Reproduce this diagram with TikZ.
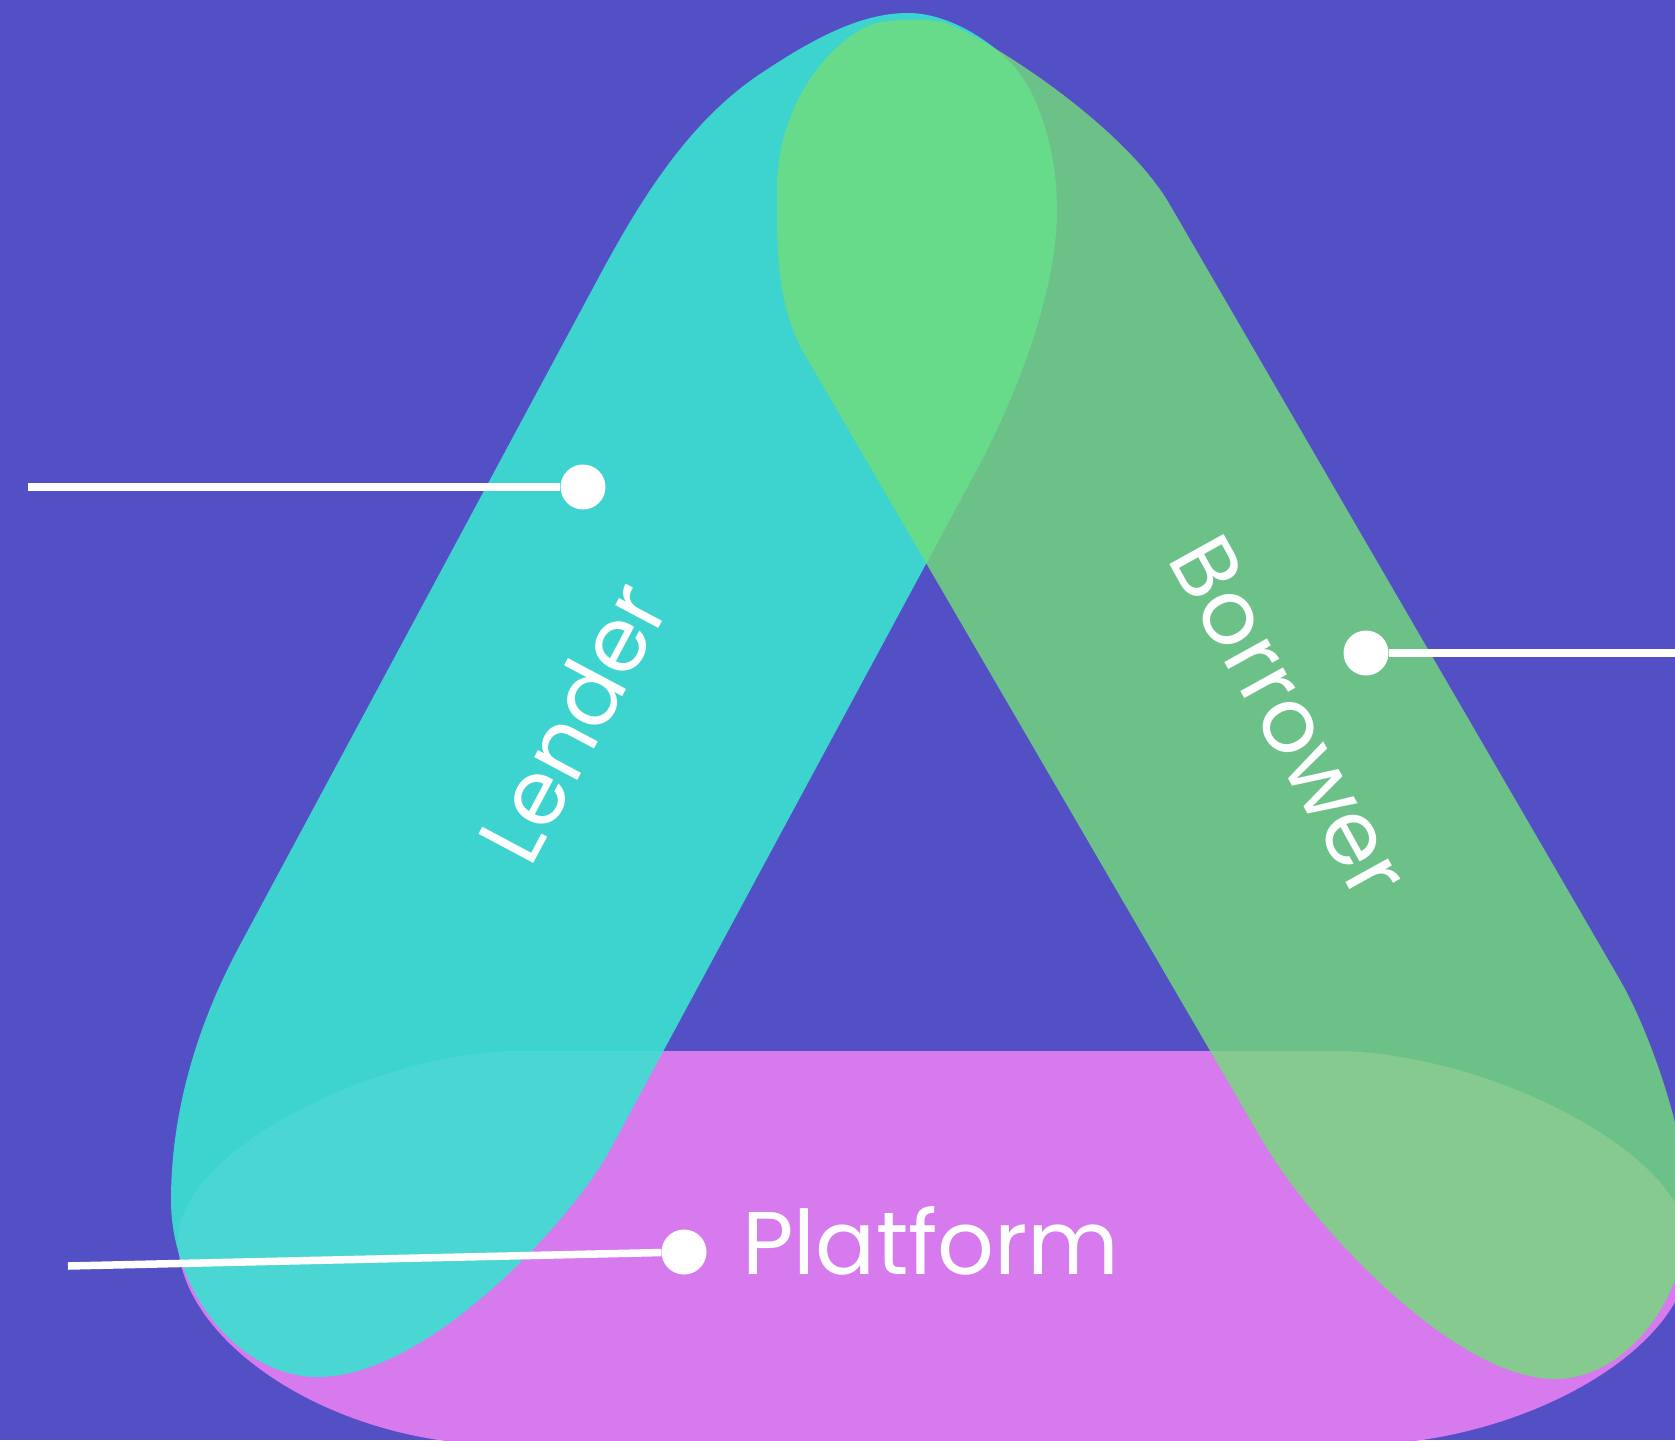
\documentclass[tikz,border=0pt]{standalone}
\usepackage{fontspec}
\setmainfont{Poppins}
\definecolor{bgc}{RGB}{83,80,197}
\definecolor{magc}{RGB}{214,122,238}
\definecolor{cyanc}{RGB}{59,226,209}
\definecolor{greenc}{RGB}{114,222,121}
\tikzset{
  magband/.style={fill=magc},
  cyanband/.style={fill=cyanc, fill opacity=0.9},
  greenband/.style={fill=greenc, fill opacity=0.8},
  dot/.style={circle, fill=white, inner sep=0pt, minimum size=45pt},
  wire/.style={draw=white, line width=7.5pt},
  lbl/.style={text=white, inner sep=0pt, anchor=base, font=\fontsize{89}{100}\selectfont}
}
\begin{document}
\begin{tikzpicture}[x=1pt,y=-1pt]
\useasboundingbox (0,0) rectangle (1675,1440);
\fill[bgc] (0,0) rectangle (1675,1440);
\begin{scope}
\clip (0,0) rectangle (1675,1440);
% Platform band
\fill[magband] (518,1051) -- (1334,1051) .. controls (1480,1051) and (1690,1150) .. (1690,1250)
  .. controls (1690,1350) and (1520,1445) .. (1355,1445) -- (505,1445)
  .. controls (330,1445) and (178,1340) .. (178,1240)
  .. controls (178,1150) and (380,1051) .. (518,1051) -- cycle;
% Lender band
\fill[cyanband] (240,945) -- (600,275)
  .. controls (640.3,200.2) and (688.1,122.5) .. (758.6,75)
  .. controls (816.6,35.9) and (863,13) .. (908,13)
  .. controls (953,13) and (1005.6,48.6) .. (1026,83)
  .. controls (1046.4,117.4) and (1057,165) .. (1057,210)
  .. controls (1057,290) and (1017.9,393.9) .. (975,473)
  -- (610,1150)
  .. controls (571.8,1220.3) and (428,1377) .. (318,1377)
  .. controls (238,1377) and (171,1290) .. (171,1200)
  .. controls (171,1120) and (192.6,1033) .. (240,945) -- cycle;
% Borrower band
\fill[greenband] (805,355)
  .. controls (774.8,303.2) and (777,240) .. (777,190)
  .. controls (777,100) and (833,40.6) .. (870,25)
  .. controls (883.8,19.2) and (932,17.6) .. (946,23)
  .. controls (992.5,41) and (1125.2,127) .. (1170,205)
  -- (1620,980)
  .. controls (1650,1032) and (1688,1140) .. (1688,1210)
  .. controls (1688,1300) and (1625,1379) .. (1555,1379)
  .. controls (1455,1379) and (1312.4,1226.4) .. (1262,1140)
  -- cycle;
\end{scope}
% connectors
\node[dot] (ldot) at (583,487) {};
\coordinate (lend) at (28,487);
\draw[wire] (lend) -- (ldot);
\node[dot] (bdot) at (1366,653) {};
\coordinate (bend) at (1690,653);
\draw[wire] (bdot) -- (bend);
\node[dot] (pdot) at (684,1252) {};
\coordinate (pend) at (68,1266);
\draw[wire] (pend) -- (pdot);
% labels
\node[lbl, rotate=62] (lender) at (601,737) {Lender};
\node[lbl, rotate=-61] (borrower) at (1263,732) {Borrower};
\node[lbl] (platform) at (931,1274) {Platform};
\end{tikzpicture}
\end{document}
